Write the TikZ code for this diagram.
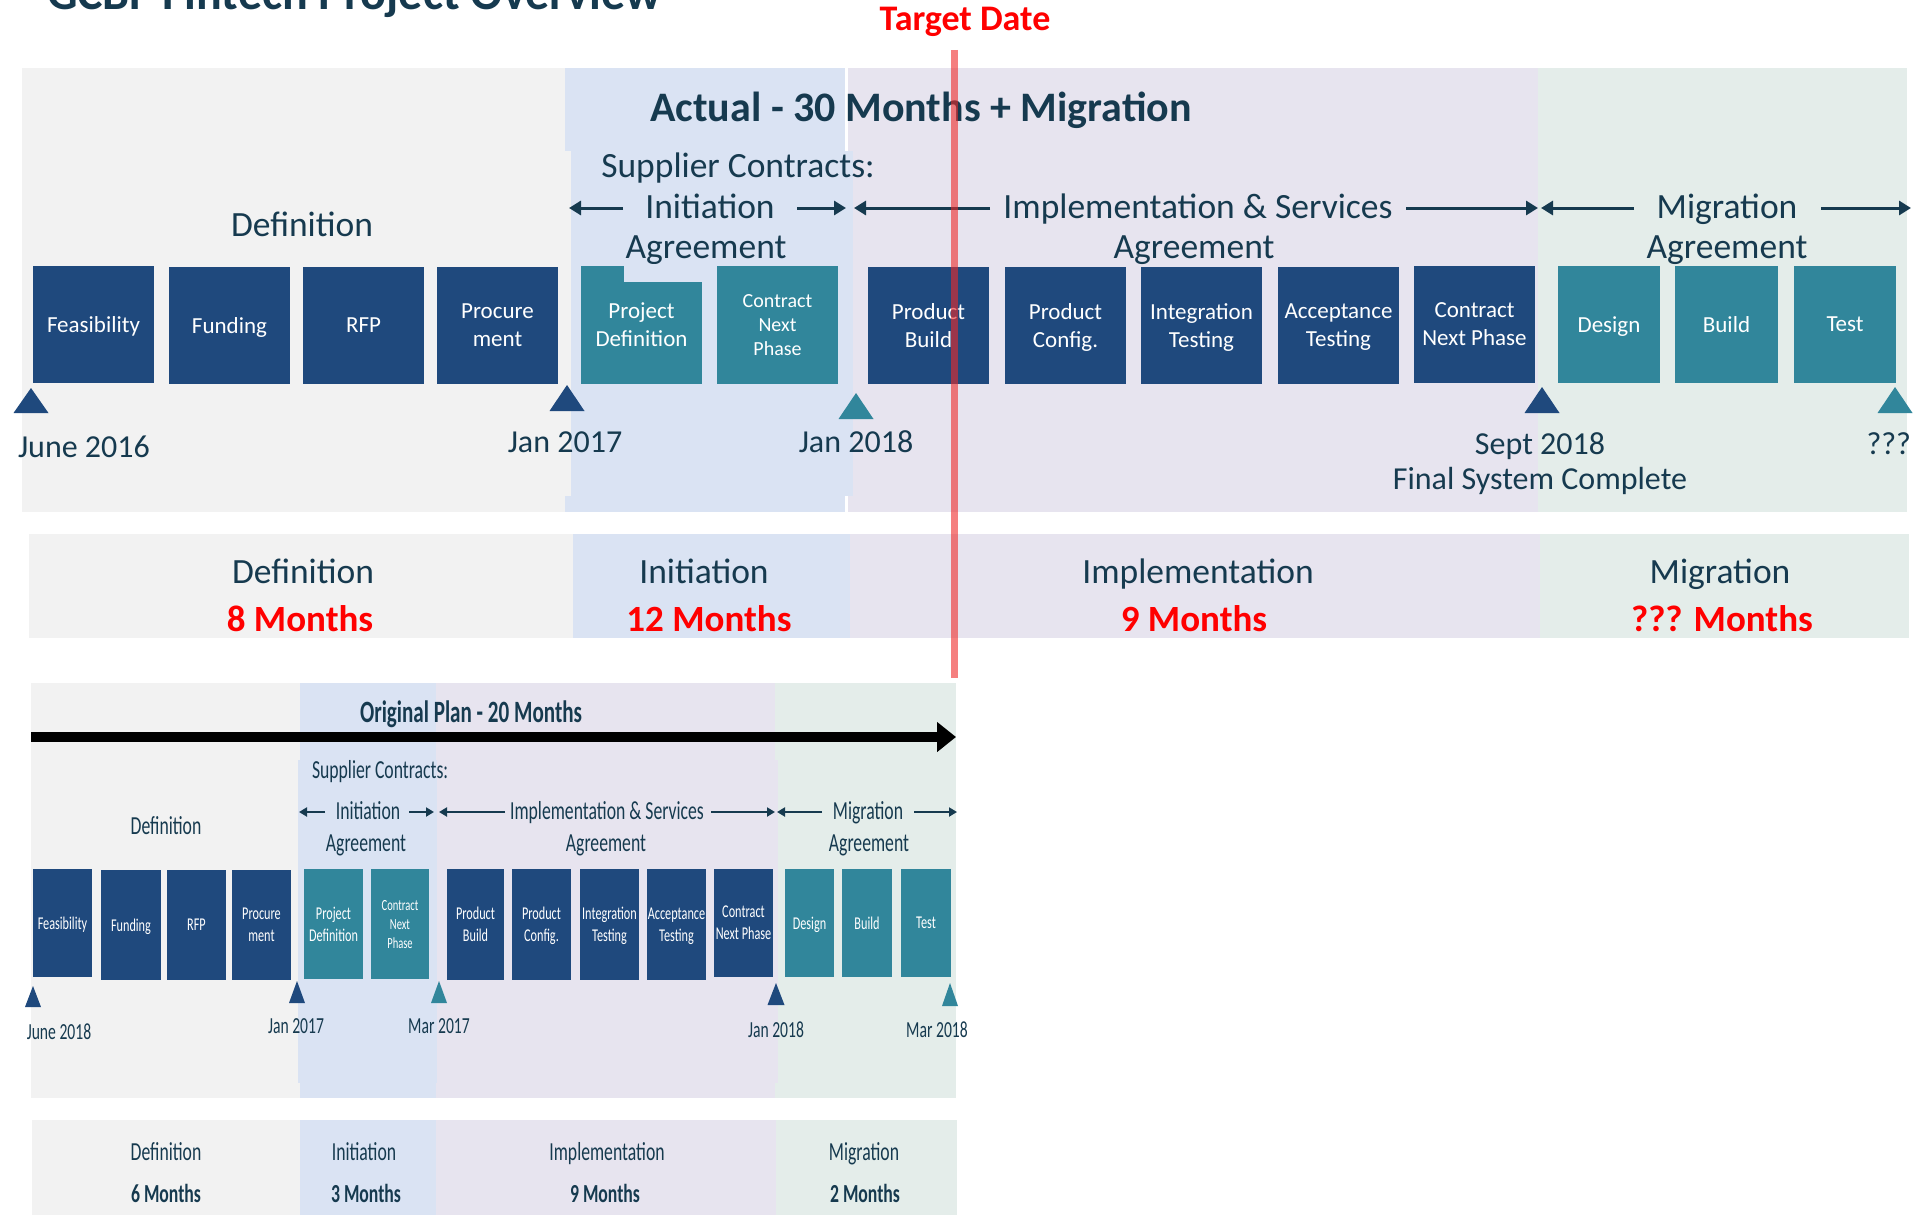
\documentclass[tikz,border=0pt]{standalone}
\usepackage{fontspec}
\setmainfont{Carlito}
\newfontfamily\narrowfont[FakeStretch=0.68]{Carlito}
\usetikzlibrary{arrows.meta}

\definecolor{bgGrey}{HTML}{F2F2F2}
\definecolor{bgBlue}{HTML}{DAE3F3}
\definecolor{bgPurple}{HTML}{E7E4EF}
\definecolor{bgGreen}{HTML}{E4EDEA}
\definecolor{navybox}{HTML}{1F497D}
\definecolor{tealbox}{HTML}{31869B}
\definecolor{ink}{HTML}{163A4F}
\definecolor{alert}{HTML}{FF0000}
\definecolor{marker}{HTML}{EE2A2A}

% task box: style, name, x1, x2, y1, y2, label
\newcommand\taskbox[7]{%
  \node[#1, minimum width={#4-#3}, minimum height={#6-#5}] (#2)
    at ({(#3+#4)/2},{(#5+#6)/2}) {#7};}
% milestone triangle: colour, centre x, half width, apex y, base y
\newcommand\milestone[5]{%
  \fill[#1] ({#2-#3},#5) -- ({#2+#3},#5) -- (#2,#4) -- cycle;}

\begin{document}
\begin{tikzpicture}[x=1pt, y=-1pt,
  every node/.style={inner sep=0pt, outer sep=0pt},
  box/.style={text=white, align=center, font=\fontsize{23}{28}\selectfont, text depth=0pt},
  navy/.style={box, fill=navybox},
  tealb/.style={box, fill=tealbox},
  smallbox/.style={font=\fontsize{20}{24}\selectfont},
  lbox/.style={font=\narrowfont\fontsize{18}{22}\selectfont},
  lsmall/.style={font=\narrowfont\fontsize{15.5}{19}\selectfont},
  lbl/.style={text=ink, anchor=base, font=\fontsize{35.5}{41}\selectfont},
  date/.style={text=ink, anchor=base, font=\fontsize{32}{37}\selectfont},
  months/.style={text=alert, anchor=base, font=\bfseries\fontsize{37}{42}\selectfont},
  llbl/.style={text=ink, anchor=base, font=\narrowfont\fontsize{26}{31}\selectfont},
  ldate/.style={text=ink, anchor=base, font=\narrowfont\fontsize{23}{28}\selectfont},
  lmonths/.style={text=ink, anchor=base, font=\narrowfont\bfseries\fontsize{26}{31}\selectfont},
  carrow/.style={draw=ink, line width=3pt, -{Triangle[length=12pt,width=14pt]}},
  larrow/.style={draw=ink, line width=2pt, -{Triangle[length=8pt,width=9pt]}},
]
\useasboundingbox (0,0) rectangle (1916,1215);

% ---------- actual schedule: phase backgrounds ----------
\fill[bgGrey]   (22,68)   rectangle (565,512);
\fill[bgBlue]   (565,68)  rectangle (845,512);
\fill[bgPurple] (848,68)  rectangle (1538,512);
\fill[bgGreen]  (1538,68) rectangle (1907,512);
\fill[bgGrey]   (560,151) rectangle (571,496);
\fill[bgBlue]   (571,151) rectangle (853,496);

% summary band
\fill[bgGrey]   (29,534)   rectangle (573,638);
\fill[bgBlue]   (573,534)  rectangle (850,638);
\fill[bgPurple] (850,534)  rectangle (1540,638);
\fill[bgGreen]  (1540,534) rectangle (1909,638);

% ---------- title ----------
\node[anchor=base west, text=ink, font=\bfseries\fontsize{48}{56}\selectfont] (title) at (47,10) {GCBF Fintech Project Overview};
\node[anchor=base, text=alert, font=\bfseries\fontsize{36}{42}\selectfont] (target) at (965,31) {Target Date};

\node[anchor=base, text=ink, font=\bfseries\fontsize{42}{48}\selectfont] (actual) at (921,121) {Actual - 30 Months + Migration};

% ---------- phase and contract labels ----------
\node[lbl] (defTop) at (302,236) {Definition};
\node[lbl] (supTop) at (738,177) {Supplier Contracts:};
\node[lbl] (iniTop) at (710,218) {Initiation};
\node[lbl] (iniAg)  at (706,258) {Agreement};
\node[lbl] (impTop) at (1198,218) {Implementation \& Services};
\node[lbl] (impAg)  at (1194,258) {Agreement};
\node[lbl] (migTop) at (1727,218) {Migration};
\node[lbl] (migAg)  at (1727,258) {Agreement};

\coordinate (iniL0) at (623,208); \coordinate (iniL1) at (569,208);
\coordinate (iniR0) at (797,208); \coordinate (iniR1) at (846,208);
\coordinate (impL0) at (990,208); \coordinate (impL1) at (854,208);
\coordinate (impR0) at (1406,208); \coordinate (impR1) at (1538,208);
\coordinate (migL0) at (1634,208); \coordinate (migL1) at (1541,208);
\coordinate (migR0) at (1821,208); \coordinate (migR1) at (1911,208);
\draw[carrow] (iniL0) -- (iniL1);
\draw[carrow] (iniR0) -- (iniR1);
\draw[carrow] (impL0) -- (impL1);
\draw[carrow] (impR0) -- (impR1);
\draw[carrow] (migL0) -- (migL1);
\draw[carrow] (migR0) -- (migR1);

% ---------- task boxes ----------
\taskbox{navy}{feas}{33}{154}{266}{383}{Feasibility}
\taskbox{navy}{fund}{169}{290}{267}{384}{Funding}
\taskbox{navy}{rfp}{303}{424}{267}{384}{RFP}
\taskbox{navy}{proc}{437}{558}{267}{384}{Procure\\ment}
\taskbox{tealb}{pdef}{581}{702}{266}{384}{Project\\Definition}
\fill[bgBlue] (624,264) rectangle (703,282);
\taskbox{tealb,smallbox}{cnp1}{717}{838}{266}{384}{Contract\\Next\\Phase}
\taskbox{navy}{pbuild}{868}{989}{267}{384}{Product\\Build}
\taskbox{navy}{pconf}{1005}{1126}{267}{384}{Product\\Config.}
\taskbox{navy}{itest}{1141}{1262}{267}{384}{Integration\\Testing}
\taskbox{navy}{atest}{1278}{1399}{267}{384}{Acceptance\\Testing}
\taskbox{navy}{cnp2}{1414}{1535}{266}{383}{Contract\\Next Phase}
\taskbox{tealb}{design}{1558}{1660}{266}{383}{Design}
\taskbox{tealb}{build}{1675}{1778}{266}{383}{Build}
\taskbox{tealb}{test}{1794}{1896}{266}{383}{Test}

% ---------- milestones ----------
\milestone{navybox}{31}{17.5}{388}{413}
\milestone{navybox}{567}{17.5}{385}{411}
\milestone{tealbox}{856}{17.5}{393}{419}
\milestone{navybox}{1542}{17.5}{387}{413}
\milestone{tealbox}{1895}{17.5}{387}{413}

\node[date, anchor=base west] (d1) at (18,457) {June 2016};
\node[date] (d2) at (565,452) {Jan 2017};
\node[date] (d3) at (856,452) {Jan 2018};
\node[date] (d4) at (1540,454) {Sept 2018};
\node[date] (d4b) at (1540,489) {Final System Complete};
\node[date, anchor=base east] (d5) at (1911,454) {???};

% ---------- summary band labels ----------
\node[lbl] (sDef) at (303,583) {Definition};
\node[months] (sDefM) at (300,631) {8 Months};
\node[lbl] (sIni) at (704,583) {Initiation};
\node[months] (sIniM) at (709,631) {12 Months};
\node[lbl] (sImp) at (1198,583) {Implementation};
\node[months] (sImpM) at (1194,631) {9 Months};
\node[lbl] (sMig) at (1720,583) {Migration};
\node[months] (sMigM) at (1722,631) {??? Months};

% ---------- original plan: phase backgrounds ----------
\fill[bgGrey]   (31,683)  rectangle (300,1098);
\fill[bgBlue]   (300,683) rectangle (436,1098);
\fill[bgPurple] (436,683) rectangle (775,1098);
\fill[bgGreen]  (775,683) rectangle (956,1098);
\fill[bgBlue]   (298,760) rectangle (437,1083);
\fill[bgPurple] (437,760) rectangle (778,1083);
\fill[bgGreen]  (778,760) rectangle (956,1083);

\fill[bgGrey]   (32,1120)  rectangle (300,1215);
\fill[bgBlue]   (300,1120) rectangle (436,1215);
\fill[bgPurple] (436,1120) rectangle (776,1215);
\fill[bgGreen]  (776,1120) rectangle (957,1215);

\node[anchor=base, text=ink, font=\narrowfont\bfseries\fontsize{31}{37}\selectfont] (orig) at (471,722) {Original Plan - 20 Months};
\coordinate (planS) at (31,737);
\coordinate (planE) at (956,737);
\draw[line width=10pt, -{Triangle[length=19pt,width=29pt]}] (planS) -- (planE);

\node[llbl, anchor=base west] (lSup) at (312,778) {Supplier Contracts:};
\node[llbl] (lDef) at (166,834) {Definition};
\node[llbl] (lIni) at (368,819) {Initiation};
\node[llbl] (lIniA) at (366,851) {Agreement};
\node[llbl] (lImp) at (607,819) {Implementation \& Services};
\node[llbl] (lImpA) at (606,851) {Agreement};
\node[llbl] (lMig) at (868,819) {Migration};
\node[llbl] (lMigA) at (869,851) {Agreement};

\coordinate (liL0) at (325,812); \coordinate (liL1) at (299,812);
\coordinate (liR0) at (409,812); \coordinate (liR1) at (434,812);
\coordinate (lpL0) at (505,812); \coordinate (lpL1) at (439,812);
\coordinate (lpR0) at (711,812); \coordinate (lpR1) at (775,812);
\coordinate (lmL0) at (822,812); \coordinate (lmL1) at (777,812);
\coordinate (lmR0) at (914,812); \coordinate (lmR1) at (957,812);
\draw[larrow] (liL0) -- (liL1);
\draw[larrow] (liR0) -- (liR1);
\draw[larrow] (lpL0) -- (lpL1);
\draw[larrow] (lpR0) -- (lpR1);
\draw[larrow] (lmL0) -- (lmL1);
\draw[larrow] (lmR0) -- (lmR1);

\taskbox{navy,lbox}{lfeas}{33}{92}{869}{977}{Feasibility}
\taskbox{navy,lbox}{lfund}{101}{161}{870}{980}{Funding}
\taskbox{navy,lbox}{lrfp}{167}{226}{870}{980}{RFP}
\taskbox{navy,lbox}{lproc}{232}{291}{870}{980}{Procure\\ment}
\taskbox{tealb,lbox}{lpdef}{304}{363}{869}{979}{Project\\Definition}
\taskbox{tealb,lsmall}{lcnp1}{371}{429}{869}{979}{Contract\\Next\\Phase}
\taskbox{navy,lbox}{lpbuild}{447}{504}{869}{980}{Product\\Build}
\taskbox{navy,lbox}{lpconf}{512}{571}{869}{980}{Product\\Config.}
\taskbox{navy,lbox}{litest}{580}{639}{869}{980}{Integration\\Testing}
\taskbox{navy,lbox}{latest}{647}{706}{869}{980}{Acceptance\\Testing}
\taskbox{navy,lbox}{lcnp2}{714}{773}{869}{977}{Contract\\Next Phase}
\taskbox{tealb,lbox}{ldesign}{785}{834}{869}{977}{Design}
\taskbox{tealb,lbox}{lbuild}{842}{892}{869}{977}{Build}
\taskbox{tealb,lbox}{ltest}{901}{951}{869}{977}{Test}

\milestone{navybox}{33}{8}{986}{1007}
\milestone{navybox}{297}{8}{981}{1003}
\milestone{tealbox}{439}{8}{981}{1003}
\milestone{navybox}{776}{8.5}{983}{1005}
\milestone{tealbox}{950}{8}{983}{1006}

\node[ldate] (ld1) at (59,1039) {June 2018};
\node[ldate] (ld2) at (296,1033) {Jan 2017};
\node[ldate] (ld3) at (439,1033) {Mar 2017};
\node[ldate] (ld4) at (776,1037) {Jan 2018};
\node[ldate] (ld5) at (937,1037) {Mar 2018};

\node[llbl] (bDef) at (166,1160) {Definition};
\node[lmonths] (bDefM) at (166,1202) {6 Months};
\node[llbl] (bIni) at (364,1160) {Initiation};
\node[lmonths] (bIniM) at (366,1202) {3 Months};
\node[llbl] (bImp) at (607,1160) {Implementation};
\node[lmonths] (bImpM) at (605,1202) {9 Months};
\node[llbl] (bMig) at (864,1160) {Migration};
\node[lmonths] (bMigM) at (865,1202) {2 Months};

% ---------- target date marker ----------
\coordinate (tdTop) at (954,50);
\coordinate (tdBot) at (954,678);
\draw[draw=marker, line width=7pt, opacity=0.6] (tdTop) -- (tdBot);
\end{tikzpicture}
\end{document}
